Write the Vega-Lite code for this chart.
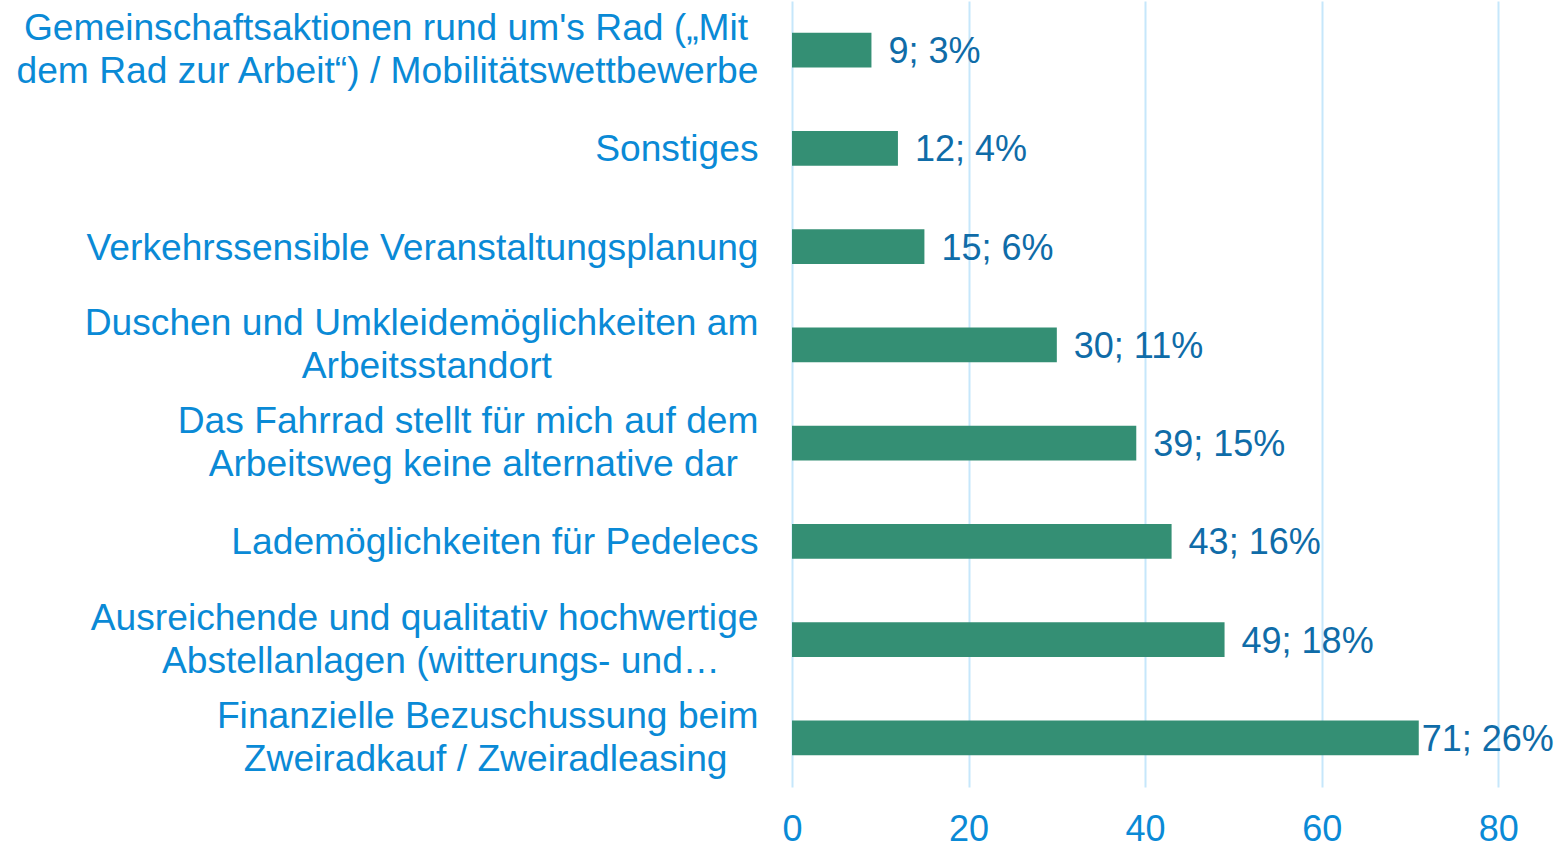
{
  "$schema": "https://vega.github.io/schema/vega-lite/v6.json",
  "autosize": {"type": "none"},
  "padding": {"left": 792, "top": 1, "right": 0, "bottom": 61},
  "width": 768,
  "height": 786,
  "background": "white",
  "config": {
    "view": {"stroke": null},
    "font": "Liberation Sans"
  },
  "data": {
    "values": [
      {"kategorie": "Gemeinschaftsaktionen rund um's Rad („Mit\u00a0\u200b|dem Rad zur Arbeit“) / Mobilitätswettbewerbe", "anzahl": 9, "beschriftung": "9; 3%"},
      {"kategorie": "Sonstiges", "anzahl": 12, "beschriftung": "12; 4%"},
      {"kategorie": "Verkehrssensible Veranstaltungsplanung", "anzahl": 15, "beschriftung": "15; 6%"},
      {"kategorie": "Duschen und Umkleidemöglichkeiten am|Arbeitsstandort\u00a0\u00a0\u00a0\u00a0\u00a0\u00a0\u00a0\u00a0\u00a0\u00a0\u00a0\u00a0\u00a0\u00a0\u00a0\u00a0\u00a0\u00a0\u00a0\u00a0\u200b", "anzahl": 30, "beschriftung": "30; 11%"},
      {"kategorie": "Das Fahrrad stellt für mich auf dem|Arbeitsweg keine alternative dar\u00a0\u00a0\u200b", "anzahl": 39, "beschriftung": "39; 15%"},
      {"kategorie": "Lademöglichkeiten für Pedelecs", "anzahl": 43, "beschriftung": "43; 16%"},
      {"kategorie": "Ausreichende und qualitativ hochwertige|Abstellanlagen (witterungs- und…\u00a0\u00a0\u00a0\u2009\u200b", "anzahl": 49, "beschriftung": "49; 18%"},
      {"kategorie": "Finanzielle Bezuschussung beim|Zweiradkauf / Zweiradleasing\u00a0\u00a0\u00a0\u200b", "anzahl": 71, "beschriftung": "71; 26%"}
    ]
  },
  "encoding": {
    "y": {
      "field": "kategorie",
      "type": "nominal",
      "sort": null,
      "scale": {"paddingInner": 0.644, "paddingOuter": 0.322},
      "axis": {
        "title": null,
        "domain": false,
        "ticks": false,
        "grid": false,
        "labelExpr": "split(datum.label, '|')",
        "labelFontSize": 37.2,
        "labelColor": "#0a8ad6",
        "labelLineHeight": 43,
        "labelPadding": 34,
        "labelLimit": 0,
        "labelAlign": "right",
        "labelBaseline": "middle",
        "labelOffset": {"condition": {"test": "indexof(datum.value, '|') >= 0", "value": -21}, "value": 2}
      }
    },
    "x": {
      "field": "anzahl",
      "type": "quantitative",
      "scale": {"domain": [0, 87], "nice": false},
      "axis": {
        "title": null,
        "values": [0, 20, 40, 60, 80],
        "domain": false,
        "ticks": false,
        "grid": true,
        "gridColor": "#c6e7fb",
        "gridWidth": 2,
        "labelFontSize": 36,
        "labelColor": "#0a8ad6",
        "labelPadding": 25,
        "labelFlush": false
      }
    }
  },
  "layer": [
    {"mark": {"type": "bar", "color": "#348f74"}},
    {
      "transform": [{"filter": "datum.anzahl < 60"}],
      "mark": {"type": "text", "align": "left", "baseline": "middle", "dx": 17, "dy": 2, "fontSize": 36, "color": "#0f6ca8"},
      "encoding": {"text": {"field": "beschriftung"}}
    },
    {
      "transform": [{"filter": "datum.anzahl >= 60"}],
      "mark": {"type": "text", "align": "left", "baseline": "middle", "dx": 3, "dy": 2, "fontSize": 36, "color": "#0f6ca8"},
      "encoding": {"text": {"field": "beschriftung"}}
    }
  ]
}
